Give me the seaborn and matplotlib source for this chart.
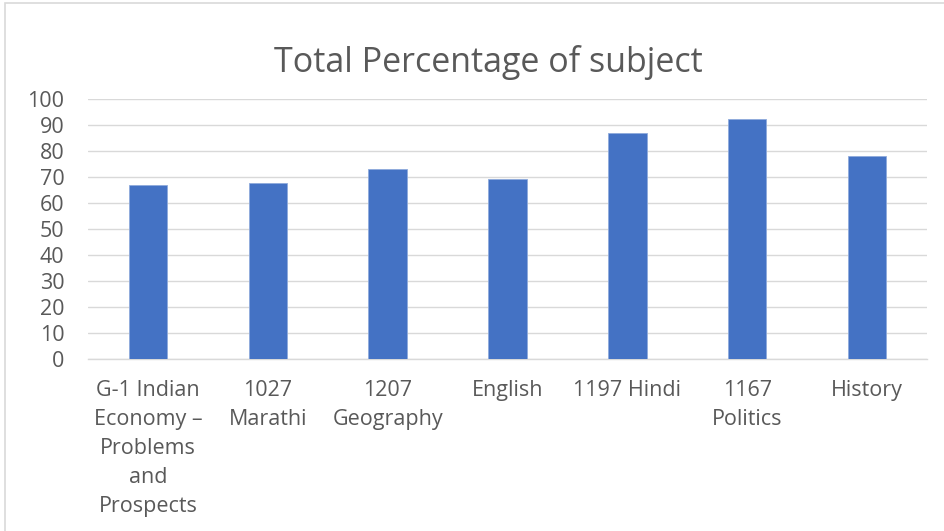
import matplotlib
matplotlib.use("Agg")
import matplotlib.pyplot as plt
import seaborn as sns
import pandas as pd
from matplotlib.patches import Rectangle

# Data
subjects = ["G-1 Indian\nEconomy –\nProblems\nand\nProspects", "1027\nMarathi", "1207\nGeography",
            "English", "1197 Hindi", "1167\nPolitics", "History"]
percentages = [67, 67.7, 73, 69.2, 87, 92.2, 78]

df = pd.DataFrame({"Subject": subjects, "Percentage": percentages})

sns.set_style("white")
plt.rcParams["font.family"] = ["Open Sans", "DejaVu Sans"]

fig = plt.figure(figsize=(9.45, 5.31), dpi=100)
ax = fig.add_axes([88 / 945, (531 - 359) / 531, (927 - 88) / 945, (359 - 99) / 531])

sns.barplot(x="Subject", y="Percentage", data=df, color="#4472C4", width=0.32,
            saturation=1, edgecolor="#8eaadc", linewidth=0.6, ax=ax, zorder=3)

ax.set_ylim(0, 100)
ax.set_yticks(range(0, 101, 10))
ax.yaxis.grid(True, color="#d9d9d9", linewidth=1, zorder=0)
ax.set_axisbelow(True)
for s in ["top", "right", "left"]:
    ax.spines[s].set_visible(False)
ax.spines["bottom"].set_color("#d9d9d9")
ax.spines["bottom"].set_linewidth(1)
ax.set_xlabel("")
ax.set_ylabel("")
ax.tick_params(axis="both", length=0, labelsize=15.5, labelcolor="#595959")
ax.tick_params(axis="y", pad=17)
ax.tick_params(axis="x", pad=15)
for lbl in ax.get_xticklabels():
    lbl.set_linespacing(1.5)

fig.text(488 / 945, 1 - 62 / 531, "Total Percentage of subject", ha="center", va="center",
         fontsize=24.5, color="#595959")

# outer chart border
fig.patches.append(Rectangle((5 / 945, -0.05), 1.2, 1 - 3 / 531 + 0.05, transform=fig.transFigure,
                             fill=False, edgecolor="#d9d9d9", linewidth=1.2))

fig.savefig("out.png", dpi=100)
